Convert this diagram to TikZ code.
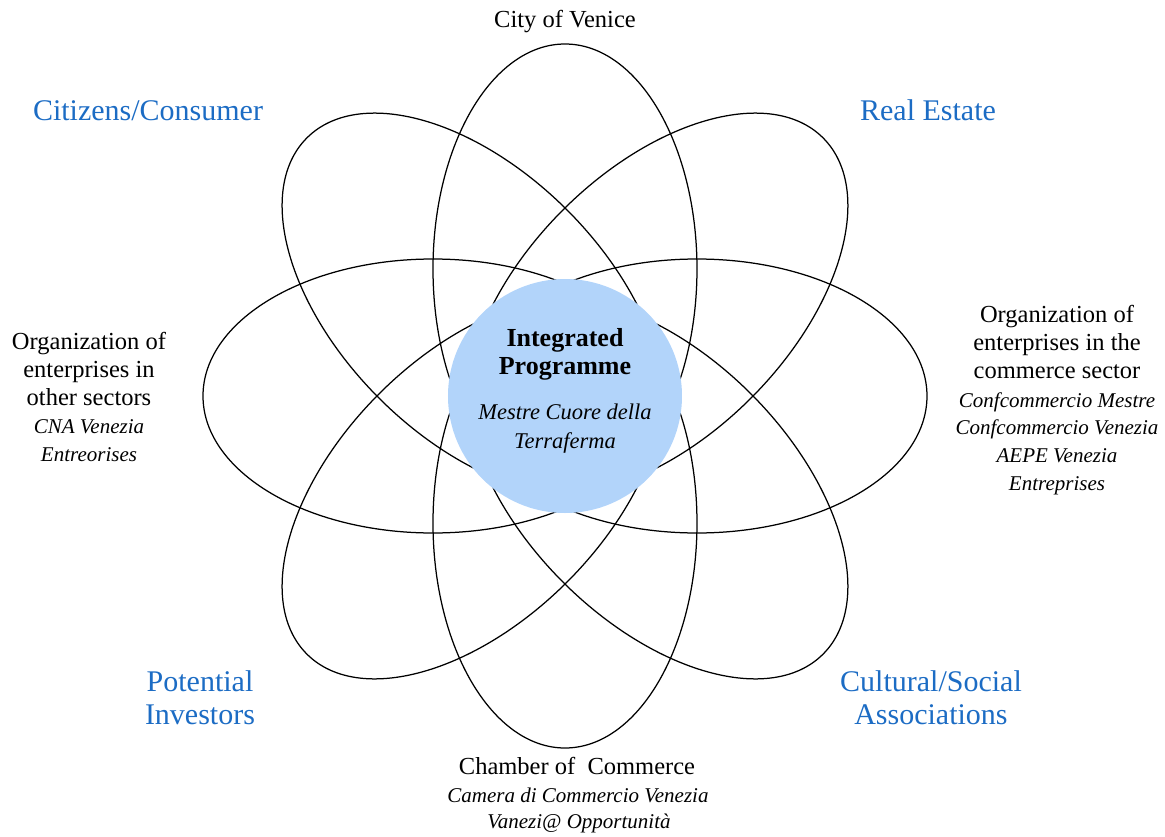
\documentclass[tikz,border=0pt]{standalone}
\usepackage{fontspec}
\setmainfont{Liberation Serif}
\definecolor{labelblue}{RGB}{28,108,196}
\definecolor{corefill}{RGB}{178,212,250}
\begin{document}
\begin{tikzpicture}[x=1pt,y=1pt,
  petal/.style={draw=black, line width=1.25pt},
  romtxt/.style={anchor=mid, inner sep=0pt, font=\fontsize{24.5}{28}\selectfont},
  ittxt/.style={anchor=mid, inner sep=0pt, font=\fontsize{21}{28}\selectfont\itshape},
  bluetxt/.style={anchor=mid, inner sep=0pt, text=labelblue, font=\fontsize{30}{33}\selectfont},
  boldtxt/.style={anchor=mid, inner sep=0pt, font=\fontsize{26}{28}\selectfont\bfseries},
  coreit/.style={anchor=mid, inner sep=0pt, font=\fontsize{22.5}{28}\selectfont\itshape}
]
\useasboundingbox (-565,-440) rectangle (600,396);

% eight petals around the centre
\foreach \ang/\d/\a/\b in {0/132/230/137, 180/132/230/137,
                           90/127/225/132, 270/127/225/132,
                           45/130/235/133, 135/130/235/133,
                           225/130/235/133, 315/130/235/133}
  \draw[petal, shift={(\ang:\d)}, rotate=\ang] (0,0) ellipse [x radius=\a, y radius=\b];

% central disc
\node[circle, fill=corefill, minimum size=234pt, inner sep=0pt] (core) at (0,0) {};
\node[boldtxt] (core1) at (0,52) {Integrated};
\node[boldtxt] (core2) at (0,24) {Programme};
\node[coreit] (core3) at (0,-21) {Mestre Cuore della};
\node[coreit] (core4) at (0,-50) {Terraferma};

% top and corners
\node[romtxt] (city) at (0,371) {City of Venice};
\node[bluetxt] (citizens) at (-417,278) {Citizens/Consumer};
\node[bluetxt] (estate) at (363,278) {Real Estate};
\node[bluetxt] (pot1) at (-365,-293) {Potential};
\node[bluetxt] (pot2) at (-365,-326) {Investors};
\node[bluetxt] (cult1) at (366,-293) {Cultural/Social};
\node[bluetxt] (cult2) at (366,-326) {Associations};

% left block
\node[romtxt] (left1) at (-476,49) {Organization of};
\node[romtxt] (left2) at (-476,21) {enterprises in};
\node[romtxt] (left3) at (-476,-7) {other sectors};
\node[ittxt] (left4) at (-476,-35) {CNA Venezia};
\node[ittxt] (left5) at (-476,-63) {Entreorises};

% right block
\node[romtxt] (right1) at (492,76) {Organization of};
\node[romtxt] (right2) at (492,48) {enterprises in the};
\node[romtxt] (right3) at (492,20) {commerce sector};
\node[ittxt] (right4) at (492,-9) {Confcommercio Mestre};
\node[ittxt] (right5) at (492,-36) {Confcommercio Venezia};
\node[ittxt] (right6) at (492,-64) {AEPE Venezia};
\node[ittxt] (right7) at (492,-92) {Entreprises};

% bottom block
\node[romtxt] (bot1) at (12,-376) {Chamber of\ \ Commerce};
\node[ittxt] (bot2) at (13,-404) {Camera di Commercio Venezia};
\node[ittxt] (bot3) at (14,-430) {Vanezi@ Opportunità};
\end{tikzpicture}
\end{document}
